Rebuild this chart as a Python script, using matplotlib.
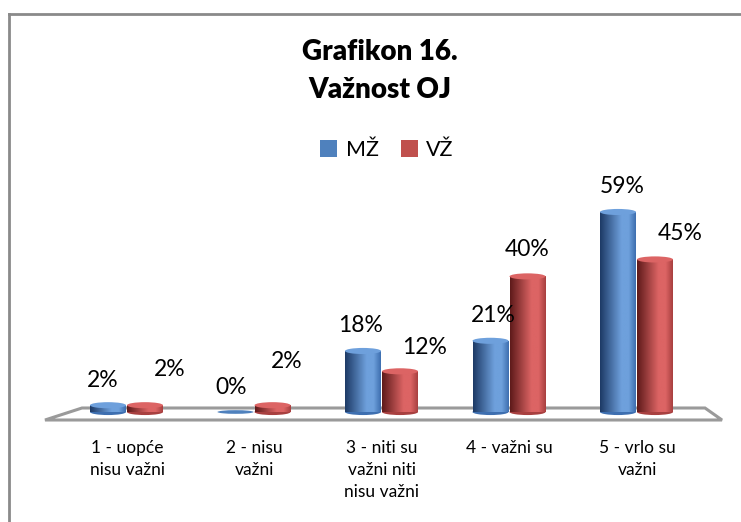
import numpy as np
import matplotlib.pyplot as plt
from matplotlib.patches import Ellipse, Polygon, Rectangle
from matplotlib.lines import Line2D
import matplotlib.colors as mcolors

kategorije = ["1 - uopće\nnisu važni", "2 - nisu\nvažni", "3 - niti su\nvažni niti\nnisu važni",
              "4 - važni su", "5 - vrlo su\nvažni"]
mz = [2, 0, 18, 21, 59]
vz = [2, 2, 12, 40, 45]
serije = ["MŽ", "VŽ"]

plt.rcParams['font.family'] = ['Lato', 'DejaVu Sans']

W, H = 741, 522
fig = plt.figure(figsize=(W / 100, H / 100), dpi=100)

# pixel geometry of the plot area
x0_px, dx_px = 127, 127.5     # first category centre, category spacing
y0_px, dy_px = 412, 3.39      # baseline, px per percent
ax_l, ax_r, ax_t, ax_b = 25, 739, 170, 432
ax = fig.add_axes([ax_l / W, 1 - ax_b / H, (ax_r - ax_l) / W, (ax_b - ax_t) / H])
ax.set_xlim((ax_l - x0_px) / dx_px, (ax_r - x0_px) / dx_px)
ax.set_ylim((y0_px - ax_b) / dy_px, (y0_px - ax_t) / dy_px)
ax.axis("off")


def px(xp, yp):
    return ((xp - x0_px) / dx_px, (y0_px - yp) / dy_px)


# floor of the 3D chart
floor = [px(45, 420), px(722, 420), px(705, 408), px(82, 408)]
ax.add_patch(Polygon(floor, closed=True, facecolor="white", edgecolor="#9a9a9a",
                     lw=2.2, zorder=1))

boje = {
    "MŽ": ("#1d3a66", "#6ea0dc", "#3e6fb0", "#4f81bd"),
    "VŽ": ("#5e1a1a", "#dc6464", "#a84040", "#c0504d"),
}


def cilindar(xc, h, w, naziv):
    dark, light, mid, flat = boje[naziv]
    cmap = mcolors.LinearSegmentedColormap.from_list(
        naziv, [(0, dark), (0.6, light), (0.8, light), (1, mid)])
    eh = 1.8
    if h > 0:
        grad = np.linspace(0, 1, 100).reshape(1, -1)
        im = ax.imshow(grad, extent=(xc - w / 2, xc + w / 2, 0, h), cmap=cmap,
                       aspect="auto", zorder=3, interpolation="bilinear")
        clip = Rectangle((xc - w / 2, 0), w, h, transform=ax.transData)
        im.set_clip_path(clip)
        ax.add_patch(Ellipse((xc, 0), w, eh, facecolor=mid, edgecolor="none", zorder=2.9))
        ax.add_patch(Ellipse((xc, h), w, eh, facecolor=light, edgecolor="none", zorder=4))
    else:
        ax.add_patch(Ellipse((xc, 0), w, eh * 0.6, facecolor=flat, edgecolor="none", zorder=4))


x = np.arange(len(kategorije))
sirina = 36 / dx_px
pomak = [-19 / dx_px, 18 / dx_px]

for i in range(len(kategorije)):
    cilindar(x[i] + pomak[0], mz[i], sirina, "MŽ")
    cilindar(x[i] + pomak[1], vz[i], sirina, "VŽ")

# data labels (Excel shifts some of them sideways)
lab_dx_mz = [-5, -4, -2, 3, 4]
lab_dx_vz = [25, 14, 25, 0, 25]
lab_dy_vz = [36, 44, 24, 27, 26]
for i in range(len(kategorije)):
    ax.text(x[i] + pomak[0] + lab_dx_mz[i] / dx_px, mz[i] + 25 / dy_px, f"{mz[i]}%",
            ha="center", va="center", fontsize=16.5, color="black", zorder=6)
    ax.text(x[i] + pomak[1] + lab_dx_vz[i] / dx_px, vz[i] + lab_dy_vz[i] / dy_px, f"{vz[i]}%",
            ha="center", va="center", fontsize=16.5, color="black", zorder=6)

# category labels
for i, k in enumerate(kategorije):
    ax.text(x[i], (y0_px - 440) / dy_px, k, ha="center", va="top", fontsize=12.5,
            linespacing=1.45, clip_on=False)

# title
fig.text(380 / W, 1 - 71 / H, "Grafikon 16.\nVažnost OJ", ha="center", va="center",
         fontsize=20, fontweight="heavy", linespacing=1.6)

# legend
handles = [Rectangle((0, 0), 1, 1, facecolor=boje[s][3]) for s in serije]
fig.legend(handles, serije, loc="center", bbox_to_anchor=(387 / W, 1 - 150 / H),
           ncol=2, frameon=False, fontsize=15.5, handlelength=0.8, handleheight=0.8,
           handletextpad=0.4, columnspacing=1.0)

# chart frame (partly cropped)
fig.add_artist(Line2D([9 / W, 9 / W], [0, 1 - 14 / H], transform=fig.transFigure,
                      color="#8a8a8a", lw=2))
fig.add_artist(Line2D([9 / W, 1], [1 - 14 / H, 1 - 14 / H], transform=fig.transFigure,
                      color="#8a8a8a", lw=2))

fig.savefig("out.png", dpi=100)
